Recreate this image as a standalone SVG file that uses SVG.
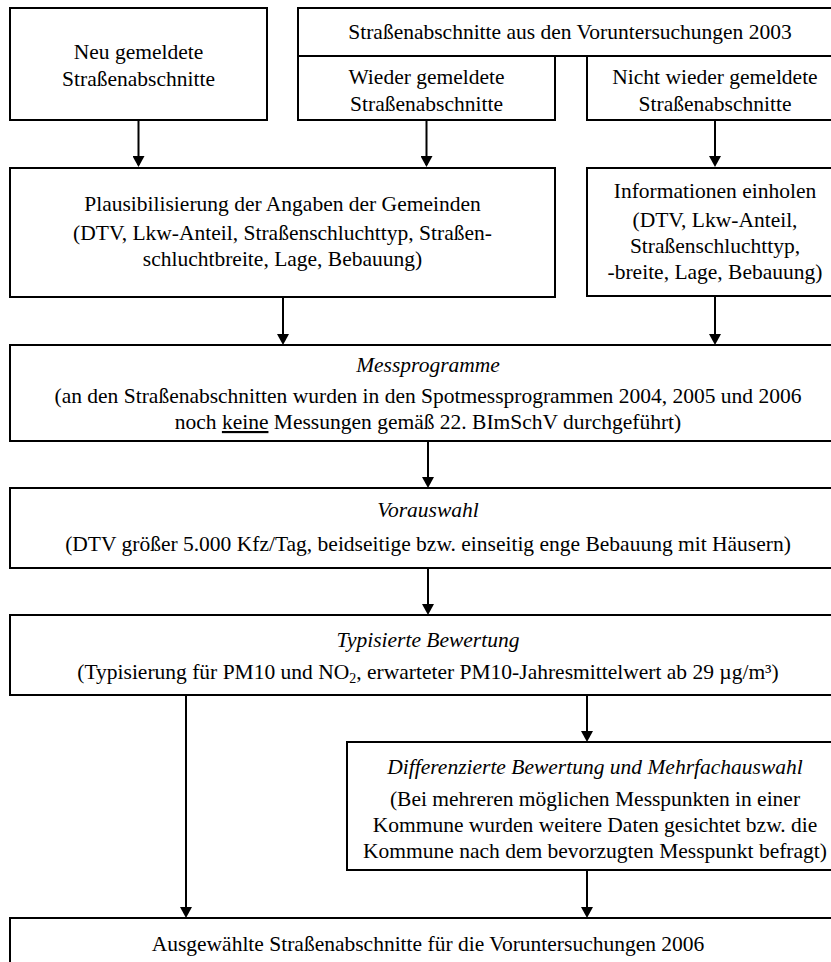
<svg xmlns="http://www.w3.org/2000/svg" width="831" height="962" viewBox="0 0 831 962">
<style>
.box{fill:#fff;stroke:#000;stroke-width:2}
.t{font-family:"Liberation Serif","Times New Roman",serif;font-size:21.5px;fill:#000;text-anchor:middle}
.i{font-style:italic}
.c{stroke:#000;stroke-width:2;fill:none;marker-end:url(#ah)}
</style>
<defs>
<marker id="ah" viewBox="0 0 11 12" refX="9" refY="6" markerWidth="11" markerHeight="12" markerUnits="userSpaceOnUse" orient="auto">
<path d="M0,0 L11,6 L0,12 z" fill="#000"/>
</marker>
</defs>
<rect width="831" height="962" fill="#fff"/>
<g id="connectors">
<line class="c" x1="138.5" y1="120" x2="138.5" y2="165"/>
<line class="c" x1="426.5" y1="120" x2="426.5" y2="165"/>
<line class="c" x1="715" y1="120" x2="715" y2="165"/>
<line class="c" x1="283" y1="297" x2="283" y2="343"/>
<line class="c" x1="715" y1="296" x2="715" y2="343"/>
<line class="c" x1="428" y1="441" x2="428" y2="486"/>
<line class="c" x1="428" y1="568" x2="428" y2="613"/>
<line class="c" x1="587" y1="695" x2="587" y2="740"/>
<line class="c" x1="186" y1="695" x2="186" y2="916"/>
<line class="c" x1="587" y1="870" x2="587" y2="916"/>
</g>
<g id="neu">
<rect class="box" x="10" y="8" width="257" height="112"/>
<text class="t" x="138.5" y="59">Neu gemeldete</text>
<text class="t" x="138.5" y="86">Straßenabschnitte</text>
</g>
<g id="voruntersuchungen2003">
<rect class="box" x="298" y="8" width="546" height="48"/>
<text class="t" x="570" y="39">Straßenabschnitte aus den Voruntersuchungen 2003</text>
</g>
<g id="wieder">
<rect class="box" x="298" y="56" width="257" height="64"/>
<text class="t" x="426.5" y="84">Wieder gemeldete</text>
<text class="t" x="426.5" y="111">Straßenabschnitte</text>
</g>
<g id="nichtwieder">
<rect class="box" x="587" y="56" width="257" height="64"/>
<text class="t" x="715" y="84">Nicht wieder gemeldete</text>
<text class="t" x="715" y="111">Straßenabschnitte</text>
</g>
<g id="plausi">
<rect class="box" x="10" y="168" width="545" height="129"/>
<text class="t" x="282.5" y="211">Plausibilisierung der Angaben der Gemeinden</text>
<text class="t" x="282.5" y="240">(DTV, Lkw-Anteil, Straßenschluchttyp, Straßen-</text>
<text class="t" x="282.5" y="266">schluchtbreite, Lage, Bebauung)</text>
</g>
<g id="info">
<rect class="box" x="587" y="168" width="257" height="128"/>
<text class="t" x="715" y="198">Informationen einholen</text>
<text class="t" x="715" y="227">(DTV, Lkw-Anteil,</text>
<text class="t" x="715" y="253">Straßenschluchttyp,</text>
<text class="t" x="715" y="279">-breite, Lage, Bebauung)</text>
</g>
<g id="messprogramme">
<rect class="box" x="10" y="345" width="836" height="96"/>
<text class="t i" x="428" y="372">Messprogramme</text>
<text class="t" x="428" y="403">(an den Straßenabschnitten wurden in den Spotmessprogrammen 2004, 2005 und 2006</text>
<text class="t" x="428" y="429">noch <tspan text-decoration="underline">keine</tspan> Messungen gemäß 22. BImSchV durchgeführt)</text>
</g>
<g id="vorauswahl">
<rect class="box" x="10" y="488" width="836" height="80"/>
<text class="t i" x="428" y="517">Vorauswahl</text>
<text class="t" x="428" y="551">(DTV größer 5.000 Kfz/Tag, beidseitige bzw. einseitig enge Bebauung mit Häusern)</text>
</g>
<g id="typisierte">
<rect class="box" x="10" y="615" width="836" height="80"/>
<text class="t i" x="428" y="647">Typisierte Bewertung</text>
<text class="t" x="428" y="679">(Typisierung für PM10 und NO<tspan font-size="14" dy="4">2</tspan><tspan dy="-4">, erwarteter PM10-Jahresmittelwert ab 29 µg/m³)</tspan></text>
</g>
<g id="differenzierte">
<rect class="box" x="347" y="742" width="497" height="128"/>
<text class="t i" x="595" y="774">Differenzierte Bewertung und Mehrfachauswahl</text>
<text class="t" x="595" y="806">(Bei mehreren möglichen Messpunkten in einer</text>
<text class="t" x="595" y="832">Kommune wurden weitere Daten gesichtet bzw. die</text>
<text class="t" x="595" y="858">Kommune nach dem bevorzugten Messpunkt befragt)</text>
</g>
<g id="ausgewaehlt">
<rect class="box" x="10" y="918" width="836" height="80"/>
<text class="t" x="428" y="951">Ausgewählte Straßenabschnitte für die Voruntersuchungen 2006</text>
</g>
</svg>
